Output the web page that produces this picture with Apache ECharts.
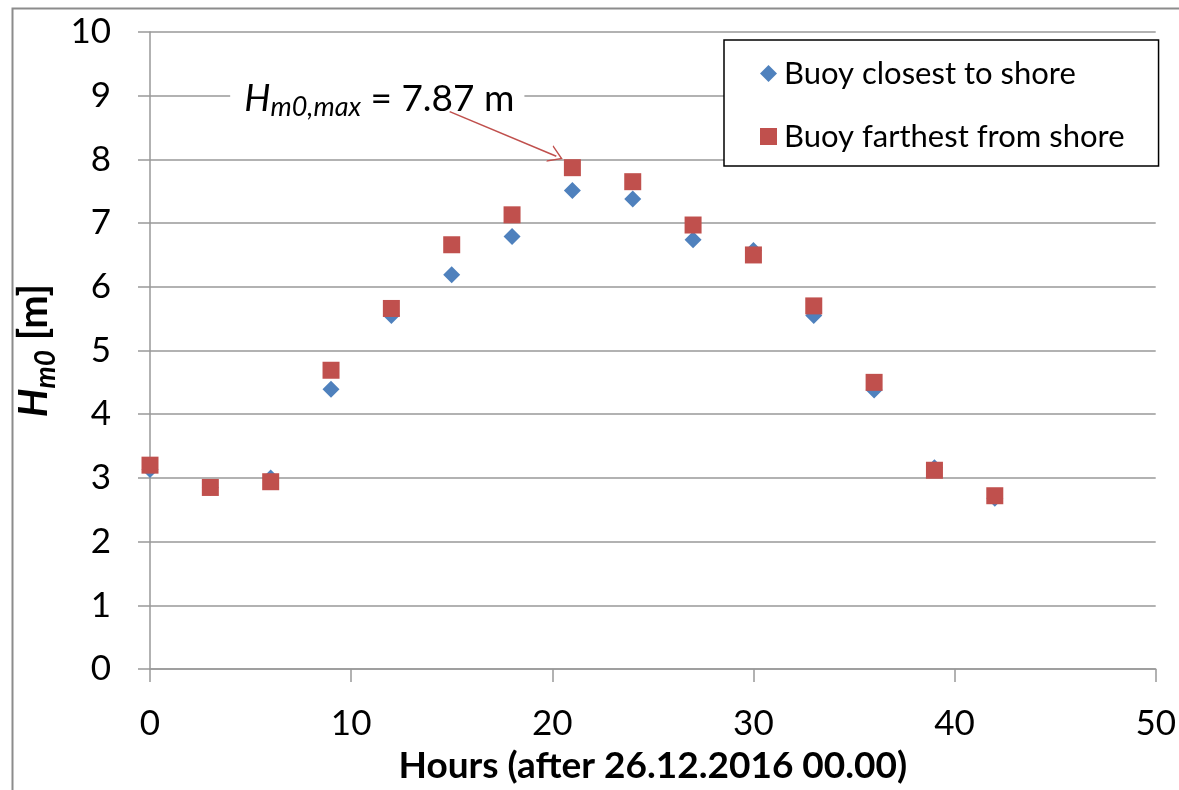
<!DOCTYPE html>
<html>
<head>
<meta charset="utf-8">
<script src="https://cdn.jsdelivr.net/npm/echarts@6/dist/echarts.min.js"></script>
<style>
html,body{margin:0;padding:0;background:#fff;}
#chart{width:1179px;height:790px;}
</style>
</head>
<body>
<div id="chart"></div>
<script>
var hours = [0, 3, 6, 9, 12, 15, 18, 21, 24, 27, 30, 33, 36, 39, 42];
var closest = [3.13, 2.85, 3.0, 4.39, 5.55, 6.19, 6.79, 7.51, 7.38, 6.74, 6.57, 5.55, 4.38, 3.16, 2.68];
var farthest = [3.2, 2.85, 2.94, 4.69, 5.66, 6.66, 7.13, 7.87, 7.65, 6.97, 6.5, 5.7, 4.5, 3.12, 2.72];
var seriesNames = ['Buoy closest to shore', 'Buoy farthest from shore'];
var xTitle = 'Hours (after 26.12.2016 00.00)';
var maxLabel = '7.87';

var FONT = 'Lato';
function pairs(xs, ys) { return xs.map(function (x, i) { return [x, ys[i]]; }); }

var chart = echarts.init(document.getElementById('chart'));
chart.setOption({
  backgroundColor: '#fff',
  animation: false,
  textStyle: { fontFamily: FONT },
  graphic: [{
    type: 'rect', left: 10, top: 6, silent: true,
    shape: { width: 1200, height: 820 },
    style: { fill: 'none', stroke: '#8c8c8c', lineWidth: 2 }
  }],
  grid: { left: 150, right: 23, top: 32, bottom: 120 },
  legend: {
    orient: 'vertical', left: 724, top: 40,
    padding: [18, 34, 14, 36],
    itemGap: 32, itemWidth: 17, itemHeight: 17,
    borderColor: '#000', borderWidth: 1.5, backgroundColor: '#fff',
    textStyle: { fontFamily: FONT, fontSize: 31, color: '#000', padding: [0, 0, 0, 2] },
    data: [{ name: seriesNames[0], icon: 'diamond' }, { name: seriesNames[1], icon: 'rect' }]
  },
  xAxis: {
    type: 'value', min: 0, max: 50, interval: 10,
    name: xTitle, nameLocation: 'middle', nameGap: 79,
    nameTextStyle: { fontFamily: FONT, fontWeight: 'bold', fontSize: 37, color: '#000' },
    axisLine: { show: true, onZero: false, lineStyle: { color: '#999', width: 1.5 } },
    axisTick: { show: true, length: 13, lineStyle: { color: '#999', width: 1.5 } },
    axisLabel: { fontFamily: FONT, fontSize: 35, color: '#000', margin: 37 },
    splitLine: { show: false }
  },
  yAxis: {
    type: 'value', min: 0, max: 10, interval: 1,
    name: '{h|H}{s|m0}{b| [m]}', nameLocation: 'middle', nameGap: 84,
    nameTextStyle: {
      rich: {
        h: { fontFamily: FONT, fontWeight: 'bold', fontStyle: 'italic', fontSize: 40, color: '#000', lineHeight: 50, verticalAlign: 'middle' },
        s: { fontFamily: FONT, fontWeight: 'bold', fontStyle: 'italic', fontSize: 28, color: '#000', lineHeight: 50, verticalAlign: 'bottom' },
        b: { fontFamily: FONT, fontWeight: 'bold', fontSize: 40, color: '#000', lineHeight: 50, verticalAlign: 'middle' }
      }
    },
    axisLine: { show: true, lineStyle: { color: '#999', width: 1.5 } },
    axisTick: { show: true, length: 12, lineStyle: { color: '#999', width: 1.5 } },
    axisLabel: { fontFamily: FONT, fontSize: 35, color: '#000', margin: 39 },
    splitLine: { show: true, lineStyle: { color: '#999', width: 1.5 } }
  },
  series: [{
    name: seriesNames[0], type: 'scatter', symbol: 'diamond', symbolSize: 17,
    itemStyle: { color: '#4F81BD', opacity: 1 }, z: 2,
    data: pairs(hours, closest)
  }, {
    name: seriesNames[1], type: 'scatter', symbol: 'rect', symbolSize: 17,
    itemStyle: { color: '#C0504D', opacity: 1 }, z: 3,
    data: pairs(hours, farthest),
    markLine: {
      silent: true, animation: false, z: 10,
      symbol: ['none', 'path://M0,14 L10,0 L20,14 L18.2,14 L10,2.6 L1.8,14 Z'], symbolSize: [18, 14],
      lineStyle: { color: '#C0504D', width: 1.6, type: 'solid', opacity: 1 },
      label: { show: false },
      data: [[{ coord: [14.9, 8.75] }, { coord: [20.2, 8.05] }]]
    },
    markPoint: {
      silent: true, animation: false, symbol: 'rect', symbolSize: 1, z: 4,
      itemStyle: { color: 'rgba(0,0,0,0)' },
      label: {
        show: true, position: 'inside',
        backgroundColor: '#fff', padding: [0, 10, 0, 14],
        formatter: '{h|H}{s|m0,max}{t| = ' + maxLabel + ' m}',
        rich: {
          h: { fontFamily: FONT, fontStyle: 'italic', fontSize: 37, color: '#000', lineHeight: 44, verticalAlign: 'middle' },
          s: { fontFamily: FONT, fontStyle: 'italic', fontSize: 27, color: '#000', lineHeight: 44, verticalAlign: 'bottom' },
          t: { fontFamily: FONT, fontSize: 37, color: '#000', lineHeight: 44, verticalAlign: 'middle' }
        }
      },
      data: [{ coord: [11.3, 8.95] }]
    }
  }]
});
</script>
</body>
</html>
